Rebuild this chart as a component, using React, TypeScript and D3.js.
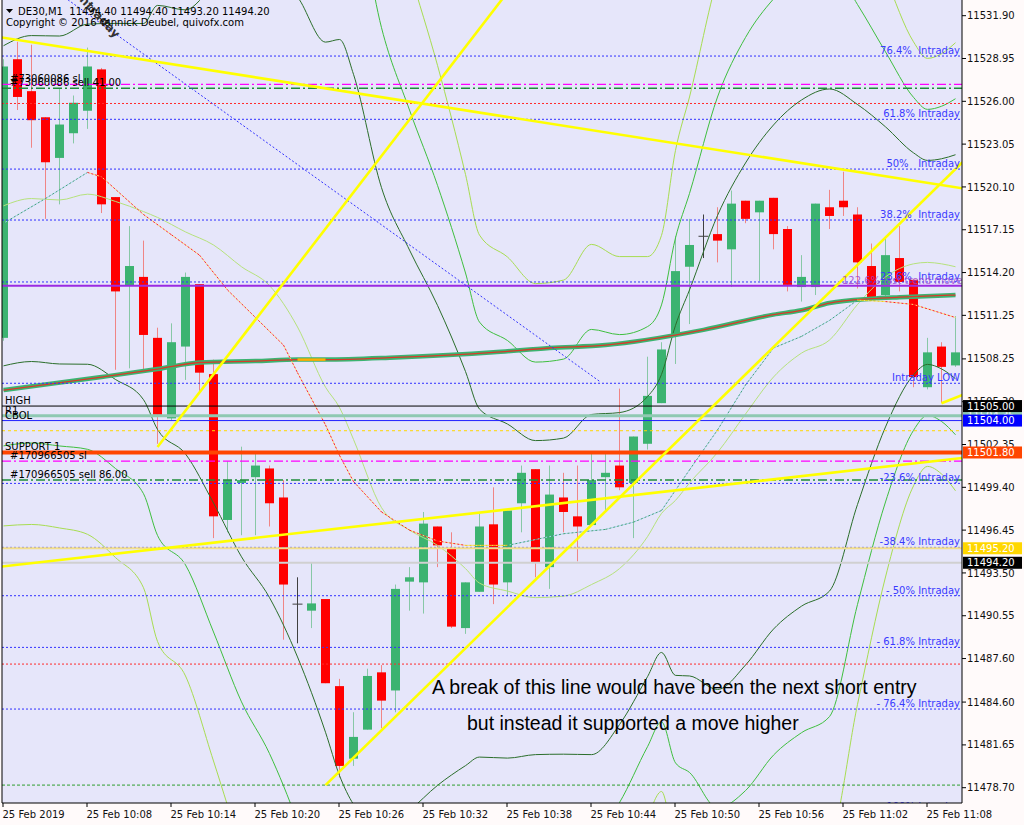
import React from "react";
import * as d3 from "d3";

// ---------------- data ----------------
const symbolHeader = "DE30,M1  11494.40 11494.40 11493.20 11494.20";
const copyrightText = "Copyright © 2016 Yannick Deubel, quivofx.com";

const timeLabels = [
  "25 Feb 2019", "25 Feb 10:08", "25 Feb 10:14", "25 Feb 10:20", "25 Feb 10:26", "25 Feb 10:32",
  "25 Feb 10:38", "25 Feb 10:44", "25 Feb 10:50", "25 Feb 10:56", "25 Feb 11:02", "25 Feb 11:08",
];
const timeLabelBars = [0, 6, 12, 18, 24, 30, 36, 42, 48, 54, 60, 66];

const priceTickLabels = [
  "11531.90", "11528.95", "11526.00", "11523.05", "11520.10", "11517.15", "11514.20",
  "11511.25", "11508.25", "11505.30", "11502.35", "11499.40", "11496.45", "11493.50",
  "11490.55", "11487.60", "11484.60", "11481.65", "11478.70",
];

const opens = [
  11509.7, 11528.9, 11526.7, 11524.9, 11522.1, 11523.8, 11525.35, 11528.2, 11519.4, 11513.3,
  11513.9, 11509.7, 11504.15, 11509.1, 11513.4, 11507.2, 11497.15, 11499.7, 11500.1, 11500.7,
  11498.7, 11491.35, 11490.9, 11491.7, 11485.7, 11480.7, 11482.7, 11486.65, 11485.4, 11492.9,
  11492.85, 11496.7, 11495.15, 11489.7, 11492.2, 11496.85, 11492.85, 11498.3, 11500.65, 11493.9,
  11498.7, 11497.4, 11496.8, 11500.1, 11500.9, 11499.7, 11502.4, 11505.2, 11509.9, 11514.6,
  11516.7, 11516.85, 11515.8, 11519.15, 11518.35, 11519.35, 11517.2, 11513.2, 11513.2, 11518.7,
  11519.15, 11518.2, 11514.65, 11512.65, 11515.2, 11513.7, 11506.3, 11509.1, 11507.8,
];
const highs = [
  11528.9, 11530.1, 11529.9, 11524.9, 11526.9, 11526.4, 11529.7, 11528.3, 11519.4, 11517.4,
  11516.4, 11510.4, 11510.7, 11514.2, 11513.4, 11508.2, 11501.2, 11502.2, 11501.7, 11500.9,
  11499.9, 11493.2, 11494.2, 11491.7, 11486.2, 11483.9, 11486.9, 11487.15, 11492.7, 11493.9,
  11497.7, 11496.7, 11496.3, 11492.85, 11497.6, 11499.4, 11497.8, 11500.9, 11500.65, 11500.9,
  11500.4, 11500.9, 11501.7, 11501.7, 11506.2, 11502.9, 11508.4, 11509.4, 11516.7, 11517.9,
  11518.2, 11518.7, 11519.85, 11519.15, 11519.15, 11519.35, 11517.4, 11515.4, 11518.95, 11519.9,
  11521.15, 11518.7, 11516.2, 11516.55, 11517.4, 11513.7, 11509.7, 11509.4, 11511.2,
];
const lows = [
  11509.5, 11525.4, 11522.8, 11517.9, 11518.9, 11523.1, 11524.1, 11518.3, 11507.5, 11507.6,
  11507.4, 11502.4, 11504.0, 11506.8, 11506.0, 11495.9, 11496.3, 11496.1, 11496.1, 11496.7,
  11488.9, 11488.65, 11489.7, 11485.9, 11479.4, 11480.2, 11482.7, 11482.8, 11483.9, 11490.9,
  11490.7, 11493.9, 11489.7, 11489.3, 11492.2, 11491.35, 11491.9, 11496.3, 11493.2, 11492.4,
  11496.3, 11494.3, 11496.8, 11497.8, 11499.2, 11495.9, 11502.0, 11505.2, 11507.9, 11510.65,
  11515.2, 11514.9, 11513.2, 11517.6, 11513.6, 11515.8, 11512.9, 11512.2, 11512.65, 11517.2,
  11518.1, 11513.1, 11512.3, 11512.5, 11512.9, 11506.3, 11506.15, 11505.2, 11507.7,
];
const closes = [
  11528.4, 11526.3, 11524.7, 11521.8, 11524.4, 11525.9, 11528.4, 11518.9, 11512.9, 11514.65,
  11509.9, 11504.4, 11509.4, 11513.9, 11507.3, 11497.4, 11499.9, 11499.9, 11500.9, 11498.3,
  11492.7, 11491.35, 11491.4, 11485.9, 11480.2, 11482.2, 11486.4, 11484.7, 11492.4, 11493.2,
  11496.9, 11495.4, 11489.8, 11492.85, 11496.7, 11492.7, 11497.8, 11500.4, 11494.2, 11498.9,
  11497.7, 11496.7, 11499.9, 11500.4, 11499.4, 11502.9, 11505.7, 11508.9, 11514.3, 11516.1,
  11516.7, 11516.4, 11518.95, 11517.9, 11519.15, 11516.85, 11513.35, 11513.9, 11518.95, 11518.1,
  11518.7, 11514.9, 11512.3, 11515.4, 11513.55, 11507.0, 11508.7, 11507.7, 11508.7,
];

// Bollinger-style envelope: middle line and one deviation
const bandBars = [0, 2, 4, 6, 8, 10, 11, 13, 15, 17, 19, 21, 23, 24, 25, 27, 29, 31, 33, 34, 36, 38, 40, 42, 44, 46, 47, 48, 49, 51, 53, 55, 57, 59, 61, 63, 65, 66, 67, 68];
const bandMid = [
  11518.8, 11519.3, 11519.2, 11519.6, 11519.1, 11518.4, 11518.0, 11517.0, 11516.1, 11514.6,
  11513.3, 11510.45, 11506.3, 11504.9, 11502.7, 11498.0, 11496.45, 11495.4, 11493.8, 11492.8,
  11492.25, 11491.8, 11491.9, 11492.7, 11493.8, 11496.0, 11497.6, 11498.5, 11499.7, 11501.8,
  11504.45, 11507.0, 11508.65, 11509.55, 11512.0, 11513.9, 11514.8, 11514.9, 11514.8, 11514.6,
];
const bandDev = [
  11.03, 11.23, 11.3, 11.72, 12.27, 12.96, 14.61, 15.3, 17.78, 19.99,
  21.5, 22.74, 23.78, 25.36, 25.16, 22.05, 19.3, 16.54, 13.58, 11.99,
  11.51, 10.82, 10.89, 11.72, 10.75, 9.65, 9.58, 12.06, 13.3, 16.33,
  17.3, 17.37, 17.44, 17.3, 13.78, 10.34, 7.65, 7.03, 7.24, 7.72,
];
const bandMultipliers = [1, 1.5, 2];

// slow moving average (thick)
const slowMaBars = [0, 7, 11, 14, 18, 21, 23, 28, 35, 39, 43, 50, 55, 57, 59, 62, 64, 68];
const slowMaValues = [
  11506.1, 11507.0, 11507.55, 11508.0, 11508.1, 11508.2, 11508.2, 11508.35, 11508.7, 11509.0,
  11509.2, 11510.25, 11511.3, 11511.6, 11512.1, 11512.4, 11512.5, 11512.65,
];

// fast moving average (dotted, colour by direction)
const fastMaBars = [0, 3, 6, 7, 10, 12, 14, 16, 18, 20, 21, 23, 24, 25, 27, 29, 31, 33, 36, 38, 40, 43, 45, 47, 49, 51, 53, 55, 57, 59, 61, 63, 65, 68];
const fastMaValues = [
  11517.6, 11519.3, 11521.1, 11520.8, 11518.2, 11516.8, 11515.4, 11513.0, 11511.1, 11509.2,
  11507.3, 11503.7, 11501.6, 11499.8, 11497.7, 11496.45, 11495.7, 11495.4, 11495.4, 11495.8,
  11496.2, 11496.5, 11497.0, 11497.8, 11500.6, 11503.35, 11506.45, 11509.0, 11509.8, 11510.9,
  11512.3, 11512.2, 11512.0, 11511.1,
];

// Fibonacci "Intraday" levels
const fibPrices = [11529.12, 11524.76, 11521.33, 11517.82, 11513.55, 11506.57, 11499.67, 11495.26, 11491.93, 11488.37, 11484.12, 11477.02];
const fibLabels = [
  "76.4%  Intraday", "61.8% Intraday", "50%   Intraday", "38.2%  Intraday", "23.6%  Intraday", "Intraday LOW",
  "-23.6% Intraday", "-38.4% Intraday", "- 50% Intraday", "- 61.8% Intraday", "- 76.4% Intraday", "100% Intraday",
];

// other horizontal objects
const redDottedPrices = [11525.85, 11487.22];
const greenDottedPrices = [11478.88];
const slPrices = [11527.17, 11501.21];
const entryPrices = [11526.9, 11499.9];
const trendMovePrice = 11513.29;
const highPrice = 11505.0;
const r1Price = 11504.33;
const cbolPrice = 11504.0;
const pivotDottedPrice = 11503.3;
const support1Price = 11501.8;
const askPrice = 11495.2;
const bidPrice = 11494.2;

const leftLabelTexts = ["HIGH", "R1", "CBOL", "SUPPORT 1", "#170966505 sl", "#170966505 sell 86.00", "#73060086 sl", "#73060086 sell 41.00"];
const leftLabelPrices = [highPrice, r1Price, cbolPrice, support1Price, slPrices[1], entryPrices[1], slPrices[0], entryPrices[0]];

const priceBoxValues = [r1Price, cbolPrice, highPrice, support1Price, askPrice, bidPrice];
const priceBoxTexts = ["11504.35", "11504.00", "11505.00", "11501.80", "11495.20", "11494.20"];

// trend lines (bar index, price)
const yellowFromBar = [-0.21, 11.0, 23.0, -0.21, 67.0];
const yellowFromPrice = [11530.41, 11502.18, 11478.88, 11493.93, 11505.19];
const yellowToBar = [68.5, 37.0, 68.5, 68.5, 68.5];
const yellowToPrice = [11520.0, 11534.77, 11521.8, 11501.42, 11505.76];

const channelFrom = [4.6, 11533.0];
const channelTo = [42.64, 11506.66];

const noteLines = ["A break of this line would have been the next short entry", "but instead it supported a move higher"];

// ---------------- drawing ----------------
const FONT = "'DejaVu Sans', Verdana, sans-serif";
const PL = 2, PR = 962, PT = 0, PB = 803;

export default function App() {
  const x = d3.scaleLinear().domain([0, 68]).range([3.5, 955.5]);
  const y = d3.scaleLinear().domain([11531.9, 11478.7]).range([15.7, 787.7]);
  const curve = d3.line<[number, number]>().x((d) => x(d[0])).y((d) => y(d[1])).curve(d3.curveMonotoneX);
  const straight = d3.line<[number, number]>().x((d) => x(d[0])).y((d) => y(d[1]));

  const hLine = (p: number, stroke: string, width: number, dash?: string, key?: string) => (
    <line key={key} x1={PL} x2={PR} y1={y(p)} y2={y(p)} stroke={stroke} strokeWidth={width} strokeDasharray={dash} />
  );

  const bandColors = ["#2B6E2B", "#3FBF3F", "#A8DD52"];

  const slowPts = slowMaBars.map((b, i) => [b, slowMaValues[i]] as [number, number]);
  const fastSegs = fastMaBars.slice(0, -1).map((b, i) => {
    const b2 = fastMaBars[i + 1];
    const slope = (fastMaValues[i + 1] - fastMaValues[i]) / (b2 - b);
    const kind = slope < -0.08 ? "down" : slope > 0.08 ? "up" : "flat";
    return { d: straight([[b, fastMaValues[i]], [b2, fastMaValues[i + 1]]]) as string, kind };
  });

  return (
    <svg width={1024} height={825} style={{ position: "absolute", left: 0, top: 0, background: "#FFFAFA" }} fontFamily={FONT}>
      <defs>
        <clipPath id="plot">
          <rect x={PL} y={PT} width={PR - PL} height={PB - PT} />
        </clipPath>
      </defs>
      <rect x={0} y={0} width={1024} height={825} fill="#FFFAFA" />
      <rect x={PL} y={PT} width={PR - PL} height={PB - PT} fill="#E6E6FA" />

      <g clipPath="url(#plot)">
        {/* candles */}
        {opens.map((o, i) => {
          const c = closes[i];
          const cx = x(i);
          const up = c > o;
          const doji = c === o;
          const body = doji ? "#404040" : up ? "#3CB371" : "#FF0000";
          const wick = doji ? "#404040" : up ? "#88C8A6" : "#F08585";
          const top = y(Math.max(o, c));
          const bot = y(Math.min(o, c));
          return (
            <g key={"c" + i}>
              <line x1={cx} x2={cx} y1={y(highs[i])} y2={y(lows[i])} stroke={wick} strokeWidth={1} />
              {doji ? (
                <line x1={cx - 5} x2={cx + 5} y1={top} y2={top} stroke={body} strokeWidth={1} />
              ) : (
                <rect x={cx - 4.5} y={top} width={9} height={Math.max(1, bot - top)} fill={body} />
              )}
            </g>
          );
        })}

        {/* envelope bands */}
        {bandMultipliers.map((m, k) =>
          [1, -1].map((s) => (
            <path
              key={"b" + k + s}
              d={curve(bandBars.map((b, i) => [b, bandMid[i] + s * m * bandDev[i]] as [number, number])) as string}
              fill="none"
              stroke={bandColors[k]}
              strokeWidth={1}
            />
          ))
        )}
        <path d={curve(bandBars.map((b, i) => [b, bandMid[i]] as [number, number])) as string} fill="none" stroke="#B6E27C" strokeWidth={1} />

        {/* slow MA */}
        <path d={curve(slowPts) as string} fill="none" stroke="#3CB371" strokeWidth={4.5} />
        <path d={curve(slowPts) as string} fill="none" stroke="#D83A2A" strokeWidth={1.3} />
        <path d={curve(slowPts.filter((p) => p[0] >= 21 && p[0] <= 23)) as string} fill="none" stroke="#FFB000" strokeWidth={2.5} />

        {/* fast MA dotted */}
        {fastSegs.map((s, i) => (
          <g key={"f" + i}>
            <path d={s.d} fill="none" stroke={s.kind === "down" ? "#FFE070" : s.kind === "up" ? "#A9D7F0" : "#FFE070"} strokeWidth={1} strokeDasharray="2,2" strokeDashoffset={2} />
            <path d={s.d} fill="none" stroke={s.kind === "down" ? "#FF2020" : s.kind === "up" ? "#3FA07A" : "#F5D000"} strokeWidth={1} strokeDasharray="2,2" />
          </g>
        ))}

        {/* horizontal objects */}
        {fibPrices.map((p, i) => hLine(p, "#3030FF", 1, "2,2", "fib" + i))}
        {redDottedPrices.map((p, i) => hLine(p, "#FF2A2A", 1, "2,2", "rd" + i))}
        {greenDottedPrices.map((p, i) => hLine(p, "#2E9E2E", 1, "3,2", "gd" + i))}
        {slPrices.map((p, i) => hLine(p, "#FF00FF", 1.2, "9,3,2,3", "sl" + i))}
        {entryPrices.map((p, i) => hLine(p, "#1E8C3A", 1.5, "9,3,2,3", "en" + i))}
        {hLine(trendMovePrice, "#9A2BE2", 2)}
        {hLine(highPrice, "#000000", 1)}
        {hLine(r1Price, "#8FC9B2", 3)}
        {hLine(cbolPrice, "#2020FF", 1)}
        {hLine(pivotDottedPrice, "#FFD700", 1, "3,3")}
        {hLine(support1Price, "#FF4500", 4)}
        {hLine(askPrice, "#F2DE8A", 2)}
        {hLine(bidPrice, "#D0D0D0", 2)}

        {/* diagonal channel line */}
        <path d={straight([channelFrom as [number, number], channelTo as [number, number]]) as string} stroke="#3333FF" strokeWidth={1} strokeDasharray="2,2" fill="none" />

        {/* yellow trend lines */}
        {yellowFromBar.map((b, i) => (
          <path
            key={"y" + i}
            d={straight([[b, yellowFromPrice[i]], [yellowToBar[i], yellowToPrice[i]]]) as string}
            stroke="#FFFF00"
            strokeWidth={2.6}
            fill="none"
          />
        ))}

        {/* fib labels */}
        {fibPrices.map((p, i) => (
          <text key={"fl" + i} x={960} y={y(p) - 2} textAnchor="end" fontSize={10} fill="#3A3AFF" style={{ whiteSpace: "pre" }}>
            {fibLabels[i]}
          </text>
        ))}
        <text x={842} y={y(trendMovePrice) - 2} fontSize={10} fill="#A040D0" opacity={0.8}>
          122.6% last trend move
        </text>

        {/* left object labels */}
        {leftLabelTexts.map((t, i) => (
          <text key={"ll" + i} x={t.startsWith("#") ? 10 : 5} y={y(leftLabelPrices[i]) - 2} fontSize={10} fill="#000">
            {t}
          </text>
        ))}

        {/* rotated channel label */}
        <text x={76} y={-3} fontSize={12} fontWeight="bold" fill="#333" transform="rotate(47 76 -3)">
          Intraday
        </text>

        {/* header */}
        <polygon points="6,9 13,9 9.5,13" fill="#000" />
        <text x={18} y={15} fontSize={10} fill="#000" style={{ whiteSpace: "pre" }}>{symbolHeader}</text>
        <text x={6} y={26} fontSize={10} fill="#000">{copyrightText}</text>

        {/* annotation */}
        <text x={432} y={694} fontSize={19.5} fontFamily="'Liberation Sans', Arial, sans-serif" fill="#000">{noteLines[0]}</text>
        <text x={467} y={729.5} fontSize={19.5} fontFamily="'Liberation Sans', Arial, sans-serif" fill="#000">{noteLines[1]}</text>
      </g>

      {/* frame */}
      <line x1={PL} x2={PL} y1={PT} y2={PB} stroke="#000" strokeWidth={1} />
      <line x1={PR} x2={PR} y1={PT} y2={PB} stroke="#000" strokeWidth={1} />
      <line x1={PL} x2={PR} y1={PB} y2={PB} stroke="#000" strokeWidth={1} />

      {/* right price axis */}
      {priceTickLabels.map((t, i) => {
        const v = +t;
        return (
          <g key={"pt" + i}>
            <line x1={PR} x2={PR + 4} y1={y(v)} y2={y(v)} stroke="#000" />
            <text x={967} y={y(v) + 3.6} fontSize={10} fill="#111">{t}</text>
          </g>
        );
      })}
      {priceBoxValues.map((v, i) => {
        const fills = ["#8FC9B2", "#0000FF", "#000000", "#FF4500", "#FFD700", "#000000"];
        return (
          <g key={"pb" + i}>
            <rect x={963} y={y(v) - 6} width={59} height={12} fill={fills[i]} />
            <text x={967} y={y(v) + 3.6} fontSize={10} fill="#FFFFFF">{priceBoxTexts[i]}</text>
          </g>
        );
      })}

      {/* time axis */}
      {timeLabelBars.map((b, i) => (
        <g key={"tl" + i}>
          <line x1={x(b) - 0.5} x2={x(b) - 0.5} y1={PB} y2={PB + 4} stroke="#000" />
          <text x={x(b) - 1} y={818} fontSize={10} fill="#111">{timeLabels[i]}</text>
        </g>
      ))}
    </svg>
  );
}
